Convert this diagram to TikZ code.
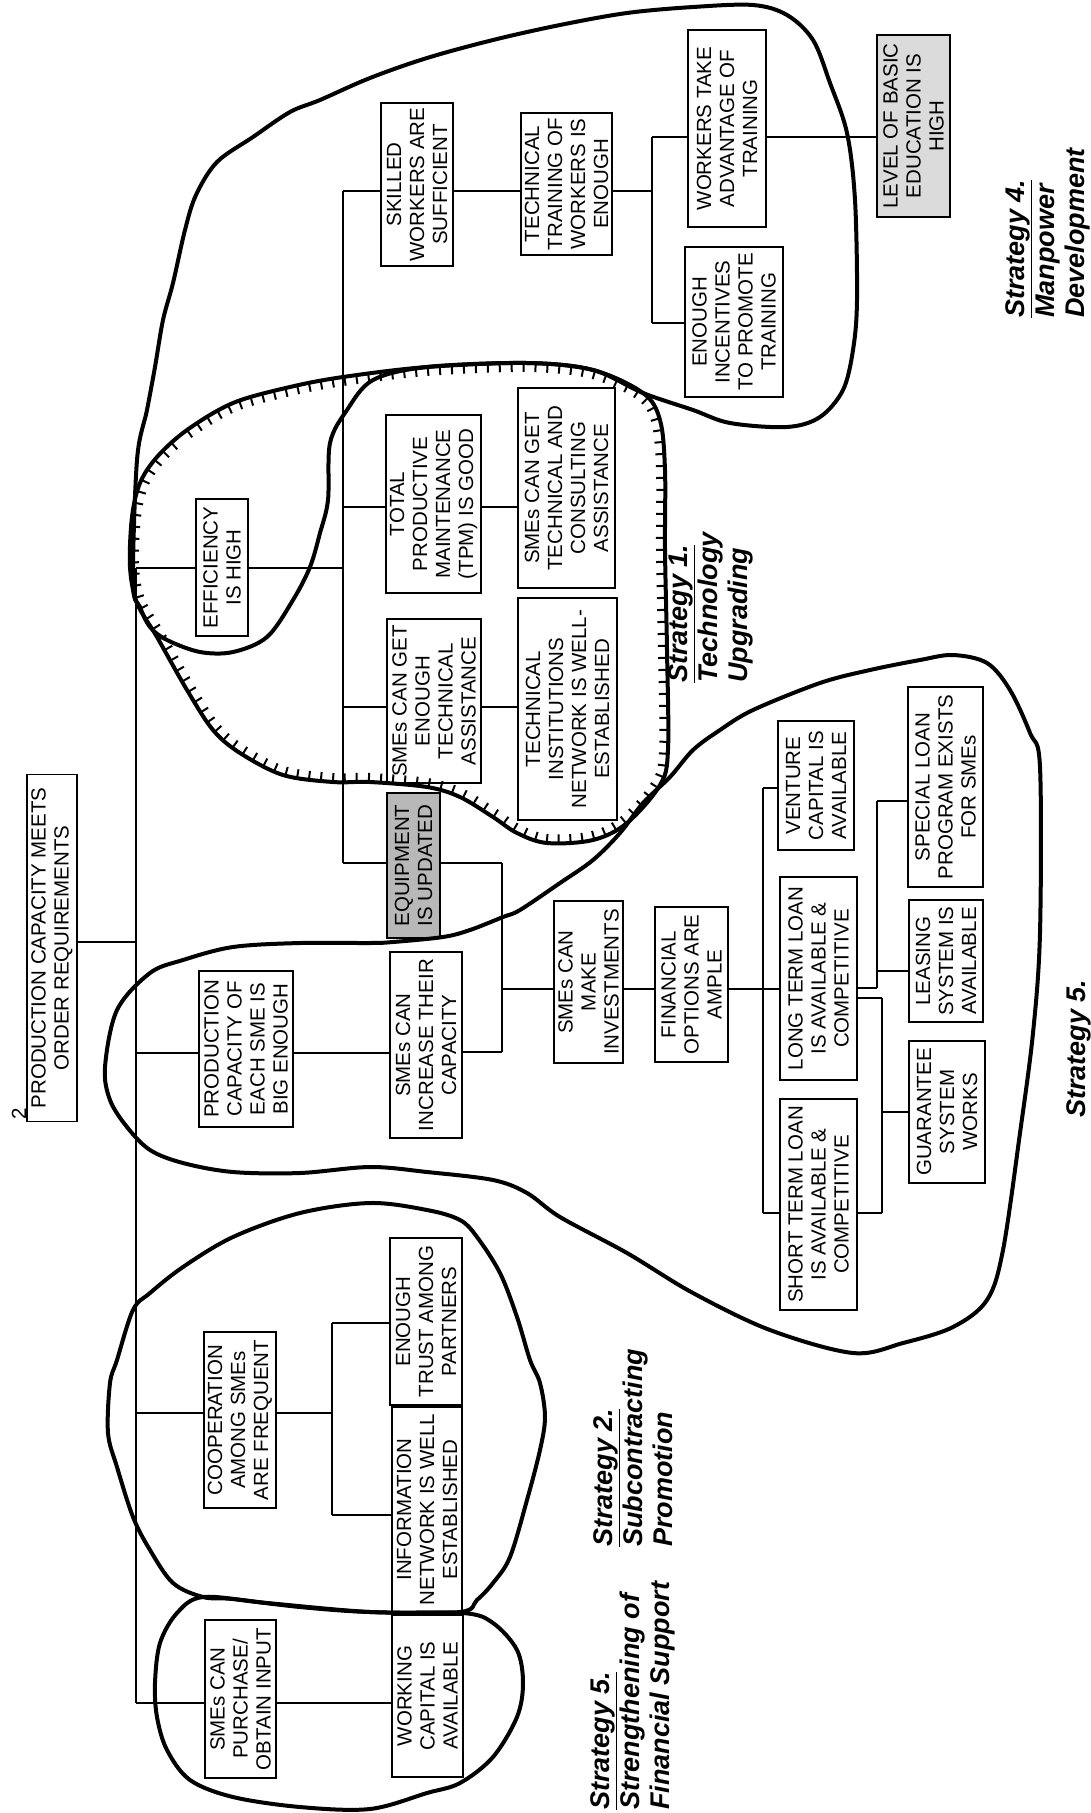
\documentclass[tikz,border=0pt]{standalone}
\usepackage{fontspec}
\setmainfont{Liberation Sans}
\usetikzlibrary{decorations.pathreplacing}
\begin{document}
\begin{tikzpicture}[x=1pt,y=-1pt,
  bx/.style n args={2}{draw, line width=1.2pt, rotate=90, inner sep=0pt, align=center,
     font=\fontsize{20.5}{23}\selectfont, minimum height=#1pt, minimum width=#2pt},
  conn/.style={line width=1.1pt},
  region/.style={line width=4pt, line join=round},
  hatched/.style={region, postaction={draw, decorate, line width=2pt,
     decoration={border, segment length=12pt, amplitude=9pt, angle=-90}}},
  slabel/.style={rotate=90, inner sep=0pt, align=left, font=\fontsize{27}{30}\selectfont\bfseries\itshape},
]
\fill[white] (0,0) rectangle (1091,1813);
\useasboundingbox (0,0) rectangle (1091,1813);

% ---------- boxes ----------
\node[bx={50}{347}] (top) at (52,948) {PRODUCTION CAPACITY MEETS\\ORDER REQUIREMENTS};
\node[rotate=90, font=\fontsize{20.5}{23}\selectfont, inner sep=0pt] (num) at (19,1114) {2};
\node[bx={52}{137}] (eff) at (222,567.5) {EFFICIENCY\\IS HIGH};
\node[bx={94}{156}] (pce) at (246,1049) {PRODUCTION\\CAPACITY OF\\EACH SME IS\\BIG ENOUGH};
\node[bx={72}{186}] (inc) at (426,1045) {SMEs CAN\\INCREASE THEIR\\CAPACITY};
\node[bx={72}{176}] (coop) at (240,1420) {COOPERATION\\AMONG SMEs\\ARE FREQUENT};
\node[bx={71}{158}] (pur) at (240.5,1699) {SMEs CAN\\PURCHASE/\\OBTAIN INPUT};
\node[bx={71}{162}] (wc) at (427.5,1696) {WORKING\\CAPITAL IS\\AVAILABLE};
\node[bx={72}{167}] (trust) at (426,1321.5) {ENOUGH\\TRUST AMONG\\PARTNERS};
\node[bx={70}{205}] (info) at (427,1509.5) {INFORMATION\\NETWORK IS WELL\\ESTABLISHED};
\node[bx={72}{163}] (skl) at (417,184.5) {SKILLED\\WORKERS ARE\\SUFFICIENT};
\node[bx={91}{142}] (tt) at (566.5,184) {TECHNICAL\\TRAINING OF\\WORKERS IS\\ENOUGH};
\node[bx={78}{197}] (work) at (727,128.5) {WORKERS TAKE\\ADVANTAGE OF\\TRAINING};
\node[bx={98}{150}] (incent) at (734,322) {ENOUGH\\INCENTIVES\\TO PROMOTE\\TRAINING};
\node[bx={73}{182}, fill=black!14] (level) at (913.5,126) {LEVEL OF BASIC\\EDUCATION IS\\HIGH};
\node[bx={95}{178}] (tpm) at (433.5,504) {TOTAL\\PRODUCTIVE\\MAINTENANCE\\(TPM) IS GOOD};
\node[bx={97}{200}] (cons) at (566.5,488) {SMEs CAN GET\\TECHNICAL AND\\CONSULTING\\ASSISTANCE};
\node[bx={94}{164}] (eta) at (434,701) {SMEs CAN GET\\ENOUGH\\TECHNICAL\\ASSISTANCE};
\node[bx={99}{222}] (ti) at (567.5,709) {TECHNICAL\\INSTITUTIONS\\NETWORK IS WELL-\\ESTABLISHED};
\node[bx={53}{145}, fill=black!28] (eq) at (413.5,865.5) {EQUIPMENT\\IS UPDATED};
\node[bx={69}{162}] (inv) at (588.5,982) {SMEs CAN\\MAKE\\INVESTMENTS};
\node[bx={73}{155}] (fin) at (691.5,984.5) {FINANCIAL\\OPTIONS ARE\\AMPLE};
\node[bx={76}{129}] (vent) at (816,785.5) {VENTURE\\CAPITAL IS\\AVAILABLE};
\node[bx={77}{203}] (long) at (818.5,978.5) {LONG TERM LOAN\\IS AVAILABLE \&\\COMPETITIVE};
\node[bx={77}{211}] (short) at (818.5,1204.5) {SHORT TERM LOAN\\IS AVAILABLE \&\\COMPETITIVE};
\node[bx={75}{200}] (special) at (945.5,787) {SPECIAL LOAN\\PROGRAM EXISTS\\FOR SMEs};
\node[bx={74}{122}] (leasing) at (946,961) {LEASING\\SYSTEM IS\\AVAILABLE};
\node[bx={76}{142}] (guar) at (947,1112) {GUARANTEE\\SYSTEM\\WORKS};

% ---------- junctions ----------
\coordinate (b1e) at (136,568);  \coordinate (b1t) at (136,942);
\coordinate (b1p) at (136,1053); \coordinate (b1c) at (136,1413);
\coordinate (b1s) at (136,1703);
\coordinate (b2s) at (343,191);  \coordinate (b2e) at (343,568);
\coordinate (b2t) at (343,507);  \coordinate (b2a) at (343,707);
\coordinate (b2q) at (343,863);
\coordinate (b3t) at (332,1323); \coordinate (b3c) at (332,1413);
\coordinate (b3i) at (332,1515);
\coordinate (b4s) at (652,191);  \coordinate (b4w) at (652,137);
\coordinate (b4i) at (652,323);
\coordinate (b5q) at (502,863);  \coordinate (b5c) at (502,1052);
\coordinate (b5v) at (502,989);
\coordinate (b6v) at (763,788);  \coordinate (b6l) at (763,989);
\coordinate (b6s) at (763,1213);
\coordinate (b7s) at (877,801);  \coordinate (b7l) at (877,988);
\coordinate (b7e) at (877,971);
\coordinate (b8l) at (882,998);  \coordinate (b8s) at (882,1213);
\coordinate (b8g) at (882,1112);

% ---------- buses ----------
\draw[conn] (b1e) -- (b1s);
\draw[conn] (b2s) -- (b2q);
\draw[conn] (b3t) -- (b3i);
\draw[conn] (b4w) -- (b4i);
\draw[conn] (b5q) -- (b5c);
\draw[conn] (b6v) -- (b6s);
\draw[conn] (b7s) -- (b7l);
\draw[conn] (b8l) -- (b8s);

% ---------- connectors ----------
\draw[conn] (top.south |- b1t) -- (b1t);
\draw[conn] (b1e) -- (b1e -| eff.north);
\draw[conn] (eff.south |- b1e) -- (b2e);
\draw[conn] (b1p) -- (b1p -| pce.north);
\draw[conn] (pce.south |- b1p) -- (b1p -| inc.north);
\draw[conn] (b1c) -- (b1c -| coop.north);
\draw[conn] (coop.south |- b1c) -- (b3c);
\draw[conn] (b1s) -- (b1s -| pur.north);
\draw[conn] (pur.south |- b1s) -- (b1s -| wc.north);
\draw[conn] (b3t) -- (b3t -| trust.north);
\draw[conn] (b3i) -- (b3i -| info.north);
\draw[conn] (b2s) -- (b2s -| skl.north);
\draw[conn] (skl.south |- b2s) -- (b2s -| tt.north);
\draw[conn] (tt.south |- b2s) -- (b4s);
\draw[conn] (b4w) -- (b4w -| work.north);
\draw[conn] (work.south |- b4w) -- (b4w -| level.north);
\draw[conn] (b4i) -- (b4i -| incent.north);
\draw[conn] (b2t) -- (b2t -| tpm.north);
\draw[conn] (tpm.south |- b2t) -- (b2t -| cons.north);
\draw[conn] (b2a) -- (b2a -| eta.north);
\draw[conn] (eta.south |- b2a) -- (b2a -| ti.north);
\draw[conn] (b2q) -- (b2q -| eq.north);
\draw[conn] (eq.south |- b2q) -- (b5q);
\draw[conn] (inc.south |- b5c) -- (b5c);
\draw[conn] (b5v) -- (b5v -| inv.north);
\draw[conn] (inv.south |- b5v) -- (b5v -| fin.north);
\draw[conn] (fin.south |- b6l) -- (b6l);
\draw[conn] (b6v) -- (b6v -| vent.north);
\draw[conn] (b6l) -- (b6l -| long.north);
\draw[conn] (b6s) -- (b6s -| short.north);
\draw[conn] (long.south |- b7l) -- (b7l);
\draw[conn] (b7s) -- (b7s -| special.north);
\draw[conn] (b7e) -- (b7e -| leasing.north);
\draw[conn] (long.south |- b8l) -- (b8l);
\draw[conn] (short.south |- b8s) -- (b8s);
\draw[conn] (b8g) -- (b8g -| guar.north);

% ---------- strategy regions ----------
% Strategy 4: manpower
\draw[region] plot[smooth cycle, tension=0.55] coordinates {
 (133,583) (137,460) (147,410) (155,367) (163,320) (173,283) (185,230) (196,195)
 (217,162) (253,137) (290,112) (320,100) (370,78) (427,58) (493,40) (560,25)
 (627,13) (693,7) (753,5) (787,15) (813,40) (830,83) (847,133) (855,200)
 (857,300) (853,350) (843,390) (820,417) (787,427) (730,423) (693,410) (643,393)
 (593,370) (527,363) (427,367) (373,380) (347,410) (330,443) (328,500) (320,533)
 (310,567) (293,600) (267,637) (233,652) (200,652) (167,640) (150,627) (140,607)};
% Strategy 1: technology upgrading (hatched)
\draw[hatched] plot[smooth cycle, tension=0.55] coordinates {
 (157,457) (187,430) (233,403) (290,387) (343,377) (427,367) (527,363) (593,370)
 (643,393) (660,420) (665,470) (665,550) (667,650) (668,750) (660,785) (627,823)
 (593,840) (547,843) (517,833) (493,817) (460,797) (427,787) (370,782) (333,782)
 (283,775) (240,753) (213,730) (187,690) (157,637) (137,603) (130,567) (132,517)
 (140,483)};
% Strategy 5: financial (middle)
\draw[region] plot[smooth cycle, tension=0.55] coordinates {
 (370,943) (300,943) (233,947) (183,960) (150,973) (117,1010) (105,1067) (110,1100)
 (127,1127) (150,1150) (183,1163) (233,1172) (300,1173) (370,1167) (427,1172)
 (493,1180) (527,1193) (560,1217) (627,1253) (693,1293) (770,1330) (853,1353)
 (903,1343) (953,1327) (987,1300) (1003,1250) (1020,1133) (1033,1033) (1040,933)
 (1040,767) (1030,733) (1010,690) (987,663) (953,655) (920,660) (870,670)
 (820,683) (753,710) (720,730) (693,750) (670,777) (643,803) (620,833) (593,860)
 (560,883) (520,910) (503,917) (470,930) (443,937) (393,942)};
% Strategy 2: subcontracting
\draw[region] plot[smooth cycle, tension=0.55] coordinates {
 (370,1203) (300,1213) (233,1237) (183,1267) (150,1293) (133,1310) (117,1360)
 (110,1383) (108,1433) (117,1467) (133,1517) (150,1550) (173,1583) (203,1597)
 (233,1599) (300,1607) (370,1612) (460,1612) (477,1600) (493,1583) (510,1557)
 (527,1500) (540,1450) (545,1417) (540,1383) (530,1360) (517,1317) (500,1273)
 (477,1237) (460,1220) (427,1210)};
% Strategy 5: working capital (left)
\draw[region] plot[smooth cycle, tension=0.55] coordinates {
 (203,1597) (177,1613) (160,1643) (155,1683) (157,1717) (167,1750) (190,1780)
 (233,1797) (300,1807) (370,1809) (427,1793) (460,1783) (493,1757) (517,1717)
 (523,1683) (517,1650) (493,1623) (463,1613) (370,1612) (267,1603)};

% ---------- strategy labels ----------
\node[slabel, anchor=west] (s1) at (711,683) {\underline{Strategy 1.}\\Technology\\Upgrading};
\node[slabel, anchor=west] (s2) at (633,1547) {\underline{Strategy 2.}\\Subcontracting\\Promotion};
\node[slabel, anchor=west] (s5a) at (633,1810) {\underline{Strategy 5.}\\Strengthening of\\Financial Support};
\node[slabel, anchor=west] (s4) at (1048,318) {\underline{Strategy 4.}\\Manpower\\Development};
\node[slabel, anchor=west] (s5b) at (1080,1118) {\underline{Strategy 5.}};
\end{tikzpicture}
\end{document}
